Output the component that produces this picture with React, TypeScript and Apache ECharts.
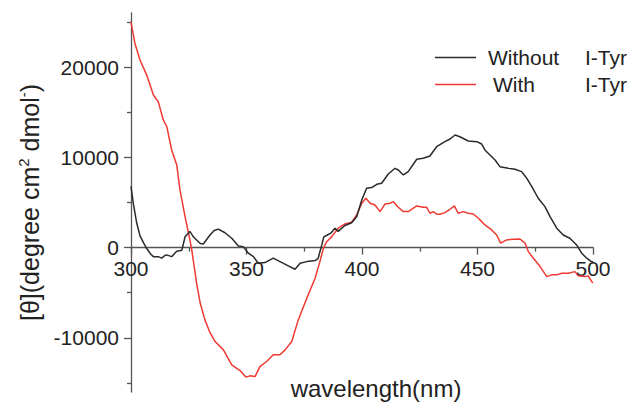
import React, { useEffect, useRef } from "react";
import * as echarts from "echarts";

const FONT = "'Liberation Sans', Arial, sans-serif";

const seriesNames = ["Without I-Tyr", "With I-Tyr"];
const xTickLabels = [300, 350, 400, 450, 500];
const yTickValues = [-10000, 0, 10000, 20000];
const yMinorTickValues = [-15000, -5000, 5000, 15000, 25000];

const wavelengthWithout = [
  300, 301, 302.5, 303.9, 305.5, 306.8, 308.5, 309.7, 311.8, 313.3, 314.5, 315.4, 317.6, 319.8, 322,
  323.4, 325.5, 327, 328.4, 330, 331.3, 334.2, 336, 337.8, 340.7, 343.6, 346.5, 348.6, 350.8, 353,
  355.1, 358, 361.6, 364.5, 368.1, 371, 373.2, 376.1, 379.7, 381, 382.6, 383.5, 385, 386.5, 388.3,
  389.7, 392.6, 395.5, 397.7, 399.9, 402, 404.2, 406.4, 408.5, 411.4, 414.3, 415.7, 417.9, 420,
  423.7, 426.5, 429.4, 432.3, 435.9, 438.1, 440.3, 442.4, 446, 449.7, 451.8, 453.2, 455.4, 457.6,
  459.7, 463.3, 466.2, 469.1, 471.3, 473.5, 476.3, 479.2, 481.4, 484.3, 487.1, 490, 492.9, 495.1,
  497.3, 499, 500,
];
const thetaWithout = [
  6800, 4900, 2700, 1300, 500, -100, -700, -1000, -1000, -1170, -900, -800, -1000, -400, -300,
  1200, 1800, 1200, 850, 450, 400, 1400, 1900, 2050, 1650, 1040, 190, 110, -620, -1000,
  -1730, -1660, -1170, -1550, -2030, -2400, -1730, -1550, -1440, -1200, 300, 1200, 1400, 1600, 2150,
  1800, 2450, 2750, 3430, 5280, 6580, 6650, 7020, 7130, 8160, 8790, 8600, 8050, 8420,
  9790, 9900, 10150, 11180, 11740, 12040, 12480, 12290, 11820, 11740, 11480, 10820, 10270, 9710,
  8970, 8790, 8680, 8420, 7690, 6760, 5470, 4540, 3430, 2150, 1400, 1040, 300, -620,
  -1170, -1500, -1600,
];

const wavelengthWith = [
  300, 301.7, 303.9, 306.8, 309.7, 311.8, 314, 315.5, 317.6, 319.8, 321.2, 323.4, 325.5, 326.3,
  328.4, 330, 332, 334, 336.4, 340, 343.6, 347.2, 349.7, 351.5, 353.7, 355.8, 358.7, 361.6, 364.5,
  366.7, 369.6, 372.4, 376.1, 379.7, 381.5, 383.3, 384.7, 386.9, 389.7, 392.6, 395.5, 397.7, 399.9,
  401.7, 403.5, 405.6, 407.8, 410, 412.1, 413.6, 415.7, 417.9, 420, 423.7, 426.5, 428, 429.4, 430.9,
  432.3, 433.8, 435.9, 438.1, 440, 441.6, 443.9, 446, 448.2, 450.4, 451.8, 453.2, 456.1, 458.3, 460,
  462.6, 465.5, 468.4, 470.6, 472, 474.2, 477.1, 480, 482.1, 484.3, 486.5, 489.3, 492.2, 493.6, 496.5,
  497.9, 499.9,
];
const thetaWith = [
  25000, 22630, 20790, 19120, 16910, 16170, 14140, 13400, 10820, 9160, 6390, 3430, 850, -250,
  -3940, -6200, -8010, -9300, -10410, -11330, -12990, -13620, -14350, -14210, -14290, -13180, -12620, -11880, -11880,
  -11330, -10410, -8010, -5600, -3390, -1800, -70, 660, 1220, 2150, 2620, 2810, 3620, 4920,
  5470, 4920, 4730, 3990, 4840, 4920, 5090, 4470, 3990, 3990, 4620, 4470, 4470, 3810, 3990,
  3700, 3700, 3880, 4250, 4620, 3810, 3990, 3810, 3730, 3250, 2880, 2510, 1960, 1400, 490,
  850, 930, 960, 490, -440, -1170, -2100, -3210, -3020, -3020, -2840, -2840, -2660, -3130, -3210,
  -3130, -3940,
];

const lineColors = ["#2a2a2a", "#ee3a32"];

const Y_MIN = -16000;
const Y_MAX = 26000;

export default function App() {
  const ref = useRef<HTMLDivElement>(null);

  useEffect(() => {
    if (!ref.current) return;
    const chart = echarts.init(ref.current, undefined, { renderer: "svg" });
    const axisColor = "#555";
    const textColor = "#222";
    const gridTop = 13;
    const gridBottom = 10;
    const gridHeight = 402 - gridTop - gridBottom;
    // distance of the zero line above the grid's bottom edge
    const zeroOffset = (-Y_MIN / (Y_MAX - Y_MIN)) * gridHeight;
    chart.setOption({
      animation: false,
      backgroundColor: "#fff",
      textStyle: { fontFamily: FONT },
      grid: {
        left: 131,
        right: 43,
        top: gridTop,
        bottom: gridBottom,
        containLabel: false,
        outerBoundsMode: "none",
      },
      legend: {
        orient: "vertical",
        left: 430,
        top: 42,
        icon: "rect",
        itemWidth: 41,
        itemHeight: 1.6,
        itemGap: 6,
        data: seriesNames,
        formatter: (name: string) =>
          name === seriesNames[0] ? "{a|Without}{t|I-Tyr}" : "{b|With}{t|I-Tyr}",
        textStyle: {
          fontFamily: FONT,
          fontSize: 21,
          color: textColor,
          rich: {
            a: { fontSize: 21, fontFamily: FONT, color: textColor, width: 97, padding: [0, 0, 0, 7], lineHeight: 24 },
            b: { fontSize: 21, fontFamily: FONT, color: textColor, width: 92, padding: [0, 0, 0, 12], lineHeight: 24 },
            t: { fontSize: 21, fontFamily: FONT, color: textColor, lineHeight: 24 },
          },
        },
      },
      xAxis: {
        type: "value",
        min: 300,
        max: 500,
        interval: 50,
        position: "bottom",
        offset: -zeroOffset,
        name: "wavelength(nm)",
        nameLocation: "middle",
        nameGap: 129,
        nameTextStyle: { fontSize: 24, fontFamily: FONT, color: textColor, padding: [0, 0, 0, 28] },
        axisLine: { onZero: false, lineStyle: { color: axisColor, width: 1.3 } },
        axisTick: { show: true, inside: false, length: 7, lineStyle: { color: axisColor, width: 1.3 } },
        minorTick: { show: true, splitNumber: 2, length: 4, lineStyle: { color: axisColor, width: 1.3 } },
        axisLabel: {
          fontSize: 21,
          fontFamily: FONT,
          color: textColor,
          margin: 10,
          formatter: (v: number) => (xTickLabels.includes(v) ? String(v) : ""),
        },
        splitLine: { show: false },
        minorSplitLine: { show: false },
      },
      yAxis: [
        {
          type: "value",
          min: Y_MIN,
          max: Y_MAX,
          name: "{n|[θ](degree cm}{s|2}{n| dmol}{s|-}{n|)}",
          nameLocation: "middle",
          nameGap: 88,
          nameTextStyle: {
            fontFamily: FONT,
            color: textColor,
            rich: {
              n: { fontSize: 25, fontFamily: FONT, color: textColor, lineHeight: 27 },
              s: { fontSize: 15, fontFamily: FONT, color: textColor, verticalAlign: "top", lineHeight: 15 },
            },
          },
          axisLine: { show: true, onZero: false, lineStyle: { color: axisColor, width: 1.3 } },
          axisTick: {
            show: true,
            length: 7,
            customValues: yTickValues,
            lineStyle: { color: axisColor, width: 1.3 },
          },
          axisLabel: {
            fontSize: 21,
            fontFamily: FONT,
            color: textColor,
            margin: 12,
            customValues: yTickValues,
            formatter: (v: number) => String(v),
          },
          splitLine: { show: false },
        },
        {
          type: "value",
          min: Y_MIN,
          max: Y_MAX,
          position: "left",
          axisLine: { show: false, onZero: false },
          axisTick: {
            show: true,
            length: 4,
            customValues: yMinorTickValues,
            lineStyle: { color: axisColor, width: 1.3 },
          },
          axisLabel: { show: false },
          splitLine: { show: false },
        },
      ],
      series: [
        {
          name: seriesNames[0],
          type: "line",
          yAxisIndex: 0,
          symbol: "none",
          smooth: false,
          lineStyle: { color: lineColors[0], width: 1.5 },
          itemStyle: { color: lineColors[0] },
          data: wavelengthWithout.map((w, i) => [w, thetaWithout[i]]),
          z: 3,
        },
        {
          name: seriesNames[1],
          type: "line",
          yAxisIndex: 0,
          symbol: "none",
          smooth: false,
          lineStyle: { color: lineColors[1], width: 1.5 },
          itemStyle: { color: lineColors[1] },
          data: wavelengthWith.map((w, i) => [w, thetaWith[i]]),
          z: 2,
        },
      ],
    });
    return () => chart.dispose();
  }, []);

  return (
    <div
      ref={ref}
      style={{ position: "absolute", left: 0, top: 0, width: 636, height: 402, background: "#fff" }}
    />
  );
}
